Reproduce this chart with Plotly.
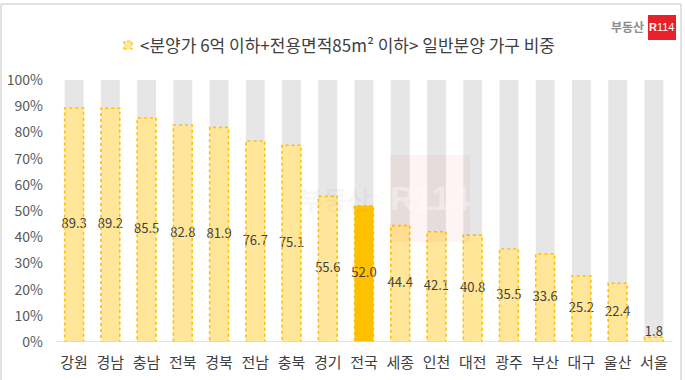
import plotly.graph_objects as go

regions = ["강원", "경남", "충남", "전북", "경북", "전남", "충북", "경기", "전국",
           "세종", "인천", "대전", "광주", "부산", "대구", "울산", "서울"]
shares = [89.3, 89.2, 85.5, 82.8, 81.9, 76.7, 75.1, 55.6, 52.0,
          44.4, 42.1, 40.8, 35.5, 33.6, 25.2, 22.4, 1.8]
totals = [100] * len(regions)
highlight = "전국"
y_ticks = [0, 10, 20, 30, 40, 50, 60, 70, 80, 90, 100]
y_tick_labels = [f"{v}%" for v in y_ticks]
title_text = "<분양가 6억 이하+전용면적85m² 이하> 일반분양 가구 비중"

W, H = 685, 380
L, R, T, B = 56, 13, 80, 38
PW, PH = W - L - R, H - T - B
BAR_W = 0.52

def px(x):
    return (x - L) / PW

def py(y):
    return (H - B - y) / PH

FONT = "Noto Sans CJK KR"
LIGHT = "#FFE699"
GOLD = "#FFC000"
GREY = "#E7E6E6"

fill_colors = [GOLD if r == highlight else LIGHT for r in regions]

fig = go.Figure()
fig.add_trace(go.Bar(x=regions, y=totals, marker=dict(color=GREY, line=dict(width=0)),
                     width=BAR_W, hoverinfo="skip", showlegend=False))
fig.add_trace(go.Bar(x=regions, y=shares, marker=dict(color=fill_colors, line=dict(width=0)),
                     width=BAR_W, showlegend=False))
# value labels centred in each bar (kept a little above baseline for tiny bars)
fig.add_trace(go.Scatter(x=regions, y=[max(v / 2, 3.4) for v in shares], mode="text",
                         text=[f"{v:.1f}" for v in shares], textposition="middle center",
                         textfont=dict(family=FONT, size=13, color="#404040"),
                         showlegend=False, hoverinfo="skip"))

shapes = []
for i, v in enumerate(shares):
    shapes.append(dict(type="rect", xref="x", yref="y", x0=i - BAR_W / 2, x1=i + BAR_W / 2,
                       y0=0, y1=v, line=dict(color=GOLD, width=1.6, dash="dot"),
                       fillcolor="rgba(0,0,0,0)", layer="above"))
# baseline
shapes.append(dict(type="line", xref="paper", yref="y", x0=0, x1=1, y0=0, y1=0,
                   line=dict(color="#D9D9D9", width=1.3), layer="above"))
# outer frame (top, left, right)
shapes += [
    dict(type="line", xref="paper", yref="paper", x0=px(1), x1=px(681), y0=py(4), y1=py(4),
         line=dict(color="#D9D9D9", width=1.5)),
    dict(type="line", xref="paper", yref="paper", x0=px(1), x1=px(1), y0=py(4), y1=py(380),
         line=dict(color="#D9D9D9", width=1.5)),
    dict(type="line", xref="paper", yref="paper", x0=px(681), x1=px(681), y0=py(4), y1=py(380),
         line=dict(color="#D9D9D9", width=1.5)),
]
# legend marker before title
shapes.append(dict(type="rect", xref="paper", yref="paper", x0=px(124), x1=px(132),
                   y0=py(49), y1=py(41), fillcolor=LIGHT,
                   line=dict(color=GOLD, width=1.2, dash="dot")))
# logo red box
shapes.append(dict(type="rect", xref="paper", yref="paper", x0=px(648), x1=px(676),
                   y0=py(40), y1=py(15), fillcolor="#E8202A", line=dict(width=0)))
# watermark
shapes.append(dict(type="rect", xref="paper", yref="paper", x0=px(390), x1=px(470),
                   y0=py(242), y1=py(155), fillcolor="rgba(232,32,42,0.05)",
                   line=dict(width=0), layer="above"))

annotations = [
    dict(text=title_text, xref="paper", yref="paper", x=px(138), y=py(45),
         xanchor="left", yanchor="middle", showarrow=False,
         font=dict(family=FONT, size=17, color="#404040")),
    dict(text="<b>부동산</b>", xref="paper", yref="paper", x=px(646), y=py(26),
         xanchor="right", yanchor="middle", showarrow=False,
         font=dict(family=FONT, size=12, color="#8C8C8C")),
    dict(text="<b>R</b>114", xref="paper", yref="paper", x=px(662), y=py(27),
         xanchor="center", yanchor="middle", showarrow=False,
         font=dict(family="Liberation Sans", size=11, color="white")),
    dict(text="<b>R114</b>", xref="paper", yref="paper", x=px(430), y=py(198),
         xanchor="center", yanchor="middle", showarrow=False,
         font=dict(family="Liberation Sans", size=34, color="rgba(255,255,255,0.35)")),
    dict(text="<b>부동산</b>", xref="paper", yref="paper", x=px(335), y=py(198),
         xanchor="center", yanchor="middle", showarrow=False,
         font=dict(family=FONT, size=26, color="rgba(160,160,160,0.10)")),
]

fig.update_layout(
    width=W, height=H,
    margin=dict(l=L, r=R, t=T, b=B, pad=0, autoexpand=False),
    paper_bgcolor="white", plot_bgcolor="white",
    barmode="overlay", bargap=0.48,
    shapes=shapes, annotations=annotations,
    font=dict(family=FONT),
    xaxis=dict(type="category", categoryorder="array", categoryarray=regions,
               range=[-0.5, len(regions) - 0.5],
               showgrid=False, showline=False, zeroline=False, ticks="",
               tickfont=dict(family=FONT, size=15, color="#404040"),
               ticklabelstandoff=10, automargin=False, fixedrange=True),
    yaxis=dict(range=[0, 100], tickvals=y_ticks, ticktext=y_tick_labels,
               showgrid=False, showline=False, zeroline=False, ticks="",
               tickfont=dict(family=FONT, size=14, color="#595959"),
               ticklabelstandoff=12, automargin=False, fixedrange=True),
)

fig.write_html("out.html", post_script="document.body.style.margin='0px';",
               config={"displayModeBar": False})
